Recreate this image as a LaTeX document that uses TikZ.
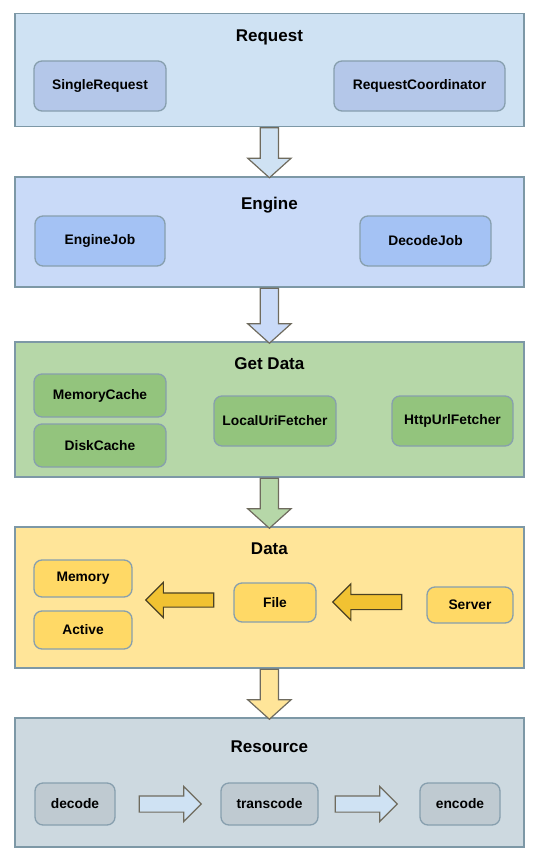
\documentclass[tikz,border=0pt]{standalone}
\usepackage{fontspec}
\setmainfont{Liberation Sans}
\usetikzlibrary{shapes.arrows, positioning, calc}

\definecolor{reqbg}{HTML}{CFE2F3}
\definecolor{reqbox}{HTML}{B4C7E9}
\definecolor{engbg}{HTML}{C9DAF8}
\definecolor{engbox}{HTML}{A4C2F4}
\definecolor{getbg}{HTML}{B6D7A8}
\definecolor{getbox}{HTML}{93C47D}
\definecolor{databg}{HTML}{FFE599}
\definecolor{databox}{HTML}{FFD966}
\definecolor{resbg}{HTML}{CDD9E0}
\definecolor{resbox}{HTML}{BFCAD1}
\definecolor{panelline}{HTML}{7D98A6}
\definecolor{boxline}{HTML}{879FAE}
\definecolor{arrowline}{HTML}{6F6B5E}
\definecolor{flowfill}{HTML}{F1C232}
\definecolor{flowline}{HTML}{4A4124}

\begin{document}
\begin{tikzpicture}[
        x=1pt, y=-1pt,
        panel/.style={
            rectangle,
            minimum width=509pt,
            draw=panelline,
            line width=1.3pt
        },
        paneltitle/.style={
            font=\fontsize{17}{20}\selectfont\bfseries
        },
        box/.style={
            rectangle,
            rounded corners=8pt,
            draw=boxline,
            line width=1.3pt,
            align=center,
            font=\fontsize{13.8}{16}\selectfont\bfseries
        },
        downarrow/.style={
            single arrow,
            shape border rotate=270,
            anchor=tail,
            draw=arrowline,
            line width=1.2pt,
            inner xsep=8.5pt,
            inner ysep=0pt,
            minimum width=0pt,
            single arrow head extend=12.5pt,
            single arrow tip angle=96
        },
        flowarrow/.style={
            single arrow,
            anchor=tail,
            line width=1.2pt,
            inner xsep=0pt,
            minimum width=0pt,
            minimum height=#1
        }
    ]

    \useasboundingbox (0,0) rectangle (545,867);

    % layers
    \node (request) [panel, fill=reqbg, minimum height=113pt] at (269.4,70) {};
    \node (engine) [panel, fill=engbg, minimum height=110pt] at (269.4,232) {};
    \node (getdata) [panel, fill=getbg, minimum height=135pt] at (269.4,409.5) {};
    \node (data) [panel, fill=databg, minimum height=141pt] at (269.4,597.5) {};
    \node (resource) [panel, fill=resbg, minimum height=129pt] at (269.4,782.5) {};

    \node (reqtitle) [paneltitle] at (269.4,37) {Request};
    \node (engtitle) [paneltitle] at (269.4,205) {Engine};
    \node (gettitle) [paneltitle] at (269.4,364) {Get Data};
    \node (datatitle) [paneltitle] at (269.4,549) {Data};
    \node (restitle) [paneltitle] at (269.4,747) {Resource};

    % Request
    \node (single) [box, fill=reqbox, minimum width=132pt, minimum height=50pt] at (100,86) {SingleRequest};
    \node (coord) [box, fill=reqbox, minimum width=171pt, minimum height=50pt] at (419.5,86) {RequestCoordinator};

    % Engine
    \node (enginejob) [box, fill=engbox, minimum width=130pt, minimum height=50pt] at (100,241) {EngineJob};
    \node (decodejob) [box, fill=engbox, minimum width=131pt, minimum height=50pt] at (425.5,241) {DecodeJob};

    % Get Data
    \node (memcache) [box, fill=getbox, minimum width=132pt, minimum height=43pt] at (100,395.5) {MemoryCache};
    \node (diskcache) [box, fill=getbox, minimum width=132pt, minimum height=43pt] at (100,445.5) {DiskCache};
    \node (localuri) [box, fill=getbox, minimum width=122pt, minimum height=50pt] at (275,421) {LocalUriFetcher};
    \node (httpurl) [box, fill=getbox, minimum width=121pt, minimum height=50pt] at (452.5,421) {HttpUrlFetcher};

    % Data
    \node (memory) [box, fill=databox, minimum width=98pt, minimum height=37pt] at (83,578.5) {Memory};
    \node (active) [box, fill=databox, minimum width=98pt, minimum height=38pt] at (83,630) {Active};
    \node (file) [box, fill=databox, minimum width=82pt, minimum height=39pt] at (275,602.5) {File};
    \node (server) [box, fill=databox, minimum width=86pt, minimum height=36pt] at (470,605) {Server};

    % Resource
    \node (decode) [box, fill=resbox, minimum width=80pt, minimum height=42pt] at (75,804) {decode};
    \node (transcode) [box, fill=resbox, minimum width=97pt, minimum height=42pt] at (269.5,804) {transcode};
    \node (encode) [box, fill=resbox, minimum width=80pt, minimum height=42pt] at (460,804) {encode};

    % arrows between layers
    \node (reqeng) [downarrow, fill=reqbg, minimum height=50pt] at (request.south) {};
    \node (engget) [downarrow, fill=engbg, minimum height=55pt] at (engine.south) {};
    \node (getdat) [downarrow, fill=getbg, minimum height=50pt] at (getdata.south) {};
    \node (datres) [downarrow, fill=databg, minimum height=50pt] at (data.south) {};

    % arrows inside Data and Resource
    \node (filemem) [flowarrow=68pt, shape border rotate=180, fill=flowfill, draw=flowline,
        inner ysep=6.5pt, single arrow head extend=10.5pt] at ($(file.west)+(-19,-2.5)$) {};
    \node (servfile) [flowarrow=69pt, shape border rotate=180, fill=flowfill, draw=flowline,
        inner ysep=7pt, single arrow head extend=10.5pt] at ($(server.west)+(-24,-3)$) {};
    \node (dectrans) [flowarrow=62pt, fill=reqbg, draw=arrowline,
        inner ysep=7.5pt, single arrow head extend=9.5pt] at ($(decode.east)+(23,0)$) {};
    \node (transenc) [flowarrow=62pt, fill=reqbg, draw=arrowline,
        inner ysep=7.5pt, single arrow head extend=9.5pt] at ($(transcode.east)+(16,0)$) {};

\end{tikzpicture}
\end{document}
